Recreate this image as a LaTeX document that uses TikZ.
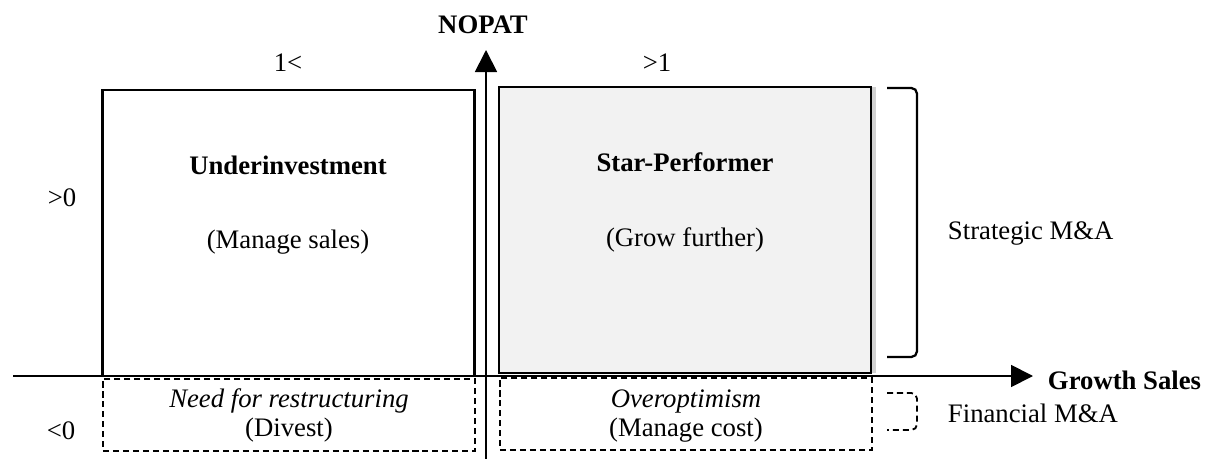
\documentclass[tikz,border=0pt]{standalone}
\usepackage{fontspec}
\setmainfont{Liberation Serif}
\usetikzlibrary{arrows.meta,shadows}
\definecolor{starfill}{RGB}{242,242,242}
\begin{document}
\begin{tikzpicture}[x=0.025cm, y=-0.025cm, every node/.style={font=\fontsize{19}{23}\selectfont}]
        \tikzstyle{quad} = [rectangle, draw, line width=1.7pt, minimum width=9.3cm, minimum height=7.15cm, inner sep=0pt]
        \tikzstyle{lowquad} = [rectangle, draw, line width=1.3pt, dash pattern=on 4.3pt off 2.8pt, minimum width=9.3cm, minimum height=1.8cm, inner sep=0pt]
        \tikzstyle{axis} = [line width=1.3pt, -{Triangle[length=0.55cm, width=0.55cm]}]
        \tikzstyle{brace} = [line width=1.6pt, rounded corners=4pt]
        \useasboundingbox (0,0) rectangle (1208,459);
        % quadrants
        \node [quad] (ui) at (288.5,233) {};
        \node [quad, fill=starfill, drop shadow={shadow xshift=0.12cm, shadow yshift=0cm, fill=black!60, opacity=0.3}] (sp) at (685,230) {};
        \node [lowquad] (nr) at (289,415) {};
        \node [lowquad] (oo) at (686,414) {};
        % axes
        \coordinate (xs) at (13,376); \coordinate (xe) at (1033,376);
        \coordinate (ys) at (486,459); \coordinate (ye) at (486,50);
        \draw [axis] (xs) -- (xe); \draw [axis] (ys) -- (ye);
        \node [font=\fontsize{19}{23}\selectfont\bfseries] (nopat) at (483,25) {NOPAT};
        \node [font=\fontsize{19}{23}\selectfont\bfseries, anchor=west] (gs) at (1043,380) {Growth Sales};
        % scale labels
        \node (lt) at (288,63) {1<};
        \node (gt) at (657,63) {>1};
        \node (pos) at (62,198) {>0};
        \node (neg) at (61,431) {<0};
        % quadrant texts
        \node [font=\fontsize{19}{23}\selectfont\bfseries] (uit) at (288,165) {Underinvestment};
        \node (uis) at (288,242) {(Manage sales)};
        \node [font=\fontsize{19}{23}\selectfont\bfseries] (spt) at (685,162) {Star-Performer};
        \node (sps) at (685,240) {(Grow further)};
        \node [font=\fontsize{19}{23}\selectfont\itshape] (nrt) at (289,401) {Need for restructuring};
        \node (nrs) at (289,430) {(Divest)};
        \node [font=\fontsize{19}{23}\selectfont\itshape] (oot) at (686,401) {Overoptimism};
        \node (oos) at (686,430) {(Manage cost)};
        % M&A brackets
        \draw [brace] (887,88) -- (917,88) -- (917,357) -- (887,357);
        \draw [brace, line width=1.3pt, dash pattern=on 4.3pt off 2.8pt] (887,393) -- (917,393) -- (917,430) -- (887,430);
        \node [anchor=west] (sma) at (943,233) {Strategic M\&A};
        \node [anchor=west] (fma) at (943,413) {Financial M\&A};
    \end{tikzpicture}
\end{document}
